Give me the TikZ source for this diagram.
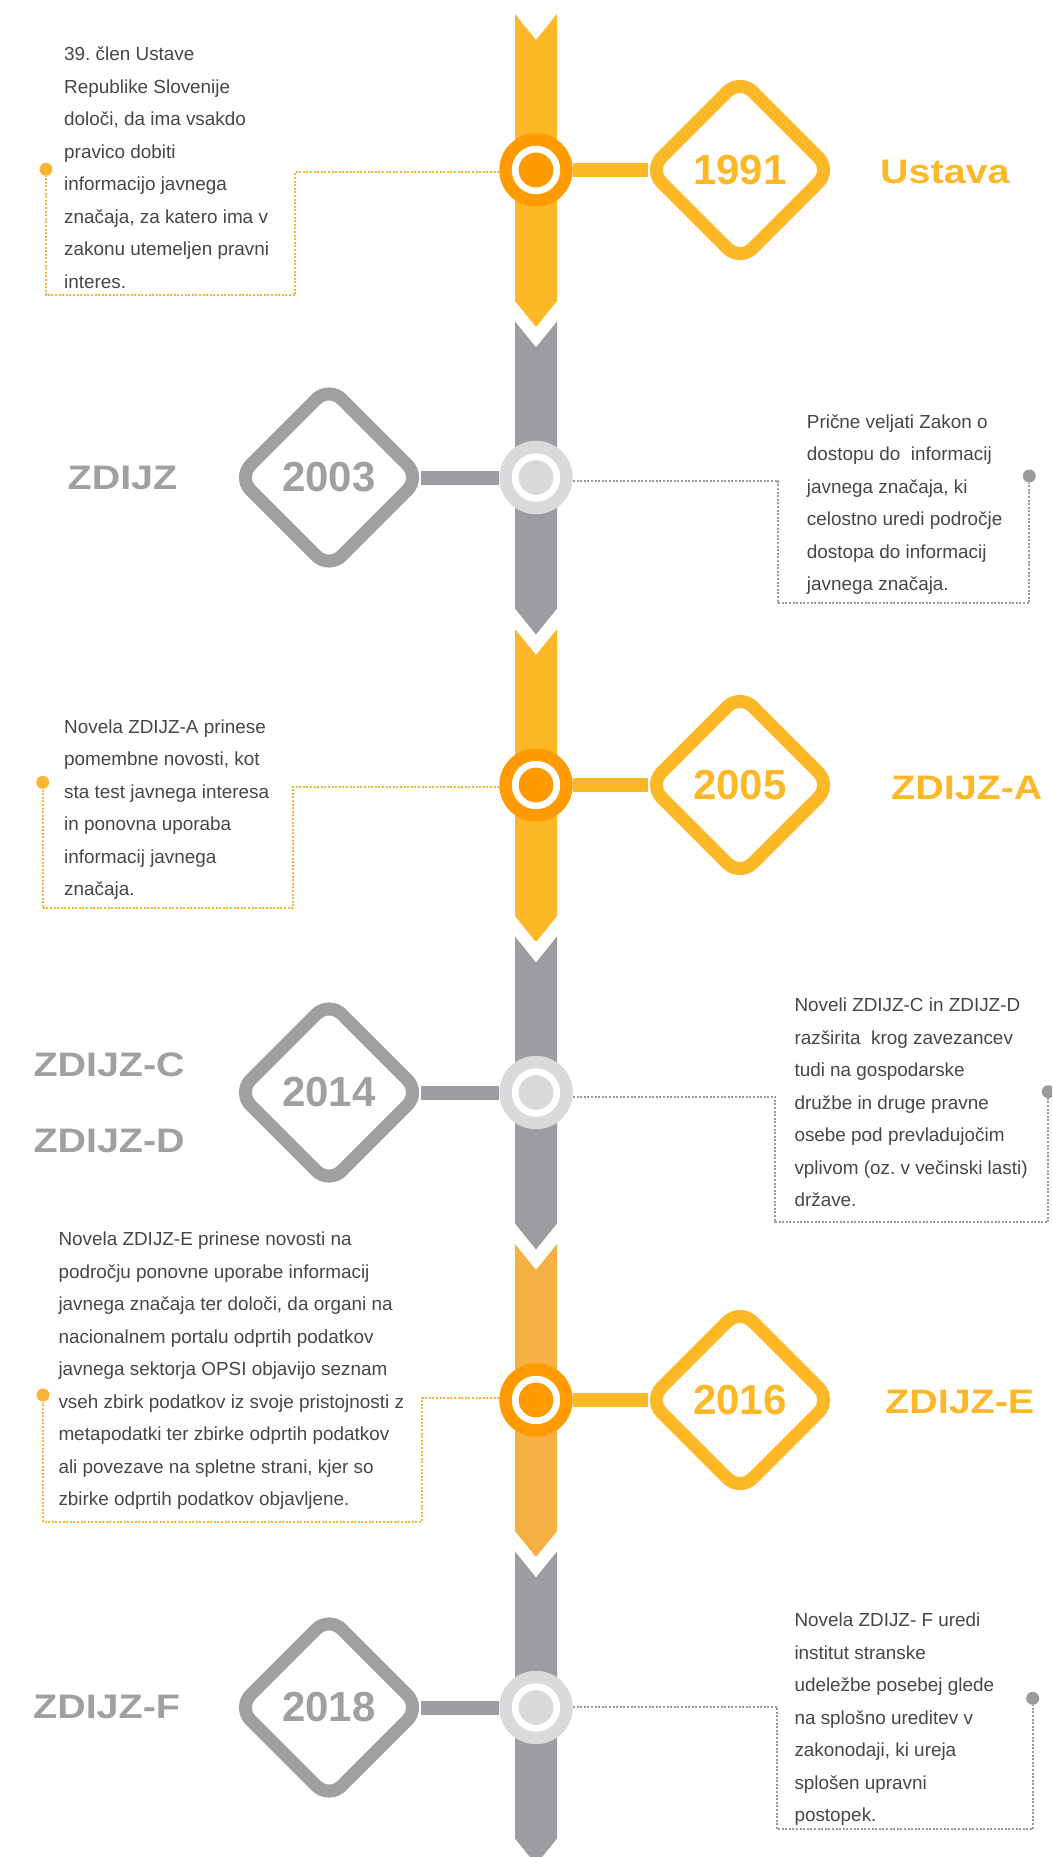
\documentclass[tikz,border=0pt]{standalone}
\usepackage{fontspec}
\setmainfont{Liberation Sans}
\newfontfamily\lblfont[FakeStretch=1.16]{Liberation Sans}
\usetikzlibrary{shapes.geometric}
\definecolor{yel}{HTML}{FDB827}
\definecolor{orng}{HTML}{FF9A00}
\definecolor{lorng}{HTML}{F6B144}
\definecolor{gbar}{HTML}{9D9DA1}
\definecolor{gdia}{HTML}{A0A0A3}
\definecolor{gcirc}{HTML}{D9DADC}
\definecolor{txt}{HTML}{474747}
\definecolor{gdot}{HTML}{9B9B9E}
\definecolor{ydot}{HTML}{FBB536}
\begin{document}
\frenchspacing
\begin{tikzpicture}[x=1pt,y=-1pt,
  hub/.style={circle, inner sep=0pt, minimum size=73.4pt, fill=#1},
  yeardia/.style={diamond, draw=#1, text=#1, line width=13pt, rounded corners=18pt,
    minimum width=187.4pt, minimum height=187.4pt, inner sep=0pt,
    font=\fontsize{42}{42}\selectfont\bfseries},
  bar/.style={draw=#1, line width=14pt},
  dotline/.style={draw=#1, line width=2pt, dash pattern=on 2pt off 1.6pt},
  pin/.style={circle, fill=#1, inner sep=0pt, minimum size=13pt},
  body/.style={anchor=base west, inner sep=0pt, text=txt, font=\frenchspacing\fontsize{18.9}{32.5}\selectfont},
  lbl/.style={anchor=base west, inner sep=0pt, text=#1, font=\lblfont\fontsize{34}{34}\selectfont\bfseries},
]
\fill[white] (0,0) rectangle (1052,1857);
\path[use as bounding box] (0,0) rectangle (1052,1857);
\clip (0,0) rectangle (1052,1857);

% timeline segments
\foreach \k/\col in {0/yel,1/gbar,2/yel,3/gbar,4/lorng,5/gbar}{
  \pgfmathsetmacro\T{14+307.5*\k}
  \fill[\col] (515,\T) -- (536,\T+26) -- (557,\T) -- (557,\T+287) -- (536,\T+313) -- (515,\T+287) -- cycle;
}

% hubs
\node[hub=orng]  (c0) at (536,170) {};
\node[hub=gcirc] (c1) at (536,477.5) {};
\node[hub=orng]  (c2) at (536,785) {};
\node[hub=gcirc] (c3) at (536,1092.5) {};
\node[hub=orng]  (c4) at (536,1400) {};
\node[hub=gcirc] (c5) at (536,1707.5) {};
\foreach \i in {0,...,5}{
  \draw[white, line width=6.7pt] (c\i.center) circle[radius=20.85pt];
}

% year diamonds
\node[yeardia=yel]  (d0) at (740,170) {\raisebox{-2pt}{1991}};
\node[yeardia=gdia] (d1) at (329,477.5) {\raisebox{-2pt}{2003}};
\node[yeardia=yel]  (d2) at (740,785) {\raisebox{-2pt}{2005}};
\node[yeardia=gdia] (d3) at (329,1092.5) {\raisebox{-2pt}{2014}};
\node[yeardia=yel]  (d4) at (740,1400) {\raisebox{-2pt}{2016}};
\node[yeardia=gdia] (d5) at (329,1707.5) {\raisebox{-2pt}{2018}};

% connectors hub - diamond
\draw[bar=yel]  (c0.east) -- ([xshift=8pt]d0.west);
\draw[bar=gbar] ([xshift=-8pt]d1.east) -- (c1.west);
\draw[bar=yel]  (c2.east) -- ([xshift=8pt]d2.west);
\draw[bar=gbar] ([xshift=-8pt]d3.east) -- (c3.west);
\draw[bar=yel]  (c4.east) -- ([xshift=8pt]d4.west);
\draw[bar=gbar] ([xshift=-8pt]d5.east) -- (c5.west);

% labels
\node[lbl=yel]  (l0)  at (880,183) {Ustava};
\node[lbl=gdia] (l1)  at (67.5,489.5) {ZDIJZ};
\node[lbl=yel]  (l2)  at (891,799) {ZDIJZ-A};
\node[lbl=gdia] (l3a) at (33.3,1076) {ZDIJZ-C};
\node[lbl=gdia] (l3b) at (33.3,1152.7) {ZDIJZ-D};
\node[lbl=yel]  (l4)  at (885,1413.5) {ZDIJZ-E};
\node[lbl=gdia] (l5)  at (33,1718) {ZDIJZ-F};

% texts
\node[body] (t0) at (64,60.7) {\begin{tabular}[t]{@{}l@{}}39. člen Ustave\\Republike Slovenije\\določi, da ima vsakdo\\pravico dobiti\\informacijo javnega\\značaja, za katero ima v\\zakonu utemeljen pravni\\interes.\end{tabular}};
\node[body] (t1) at (806.7,428.3) {\begin{tabular}[t]{@{}l@{}}Prične veljati Zakon o\\dostopu do~ informacij\\javnega značaja, ki\\celostno uredi področje\\dostopa do informacij\\javnega značaja.\end{tabular}};
\node[body] (t2) at (64,733.3) {\begin{tabular}[t]{@{}l@{}}Novela ZDIJZ-A prinese\\pomembne novosti, kot\\sta test javnega interesa\\in ponovna uporaba\\informacij javnega\\značaja.\end{tabular}};
\node[body] (t3) at (794.3,1011.7) {\begin{tabular}[t]{@{}l@{}}Noveli ZDIJZ-C in ZDIJZ-D\\razširita~ krog zavezancev\\tudi na gospodarske\\družbe in druge pravne\\osebe pod prevladujočim\\vplivom (oz. v večinski lasti)\\države.\end{tabular}};
\node[body] (t4) at (58.3,1245.7) {\begin{tabular}[t]{@{}l@{}}Novela ZDIJZ-E prinese novosti na\\področju ponovne uporabe informacij\\javnega značaja ter določi, da organi na\\nacionalnem portalu odprtih podatkov\\javnega sektorja OPSI objavijo seznam\\vseh zbirk podatkov iz svoje pristojnosti z\\metapodatki ter zbirke odprtih podatkov\\ali povezave na spletne strani, kjer so\\zbirke odprtih podatkov objavljene.\end{tabular}};
\node[body] (t5) at (794.3,1626.7) {\begin{tabular}[t]{@{}l@{}}Novela ZDIJZ- F uredi\\institut stranske\\udeležbe posebej glede\\na splošno ureditev v\\zakonodaji, ki ureja\\splošen upravni\\postopek.\end{tabular}};

% pins
\node[pin=ydot] (p0) at (46,169.3) {};
\node[pin=gdot] (p1) at (1029.3,476) {};
\node[pin=ydot] (p2) at (42.7,782.3) {};
\node[pin=gdot] (p3) at (1048.3,1091.7) {};
\node[pin=ydot] (p4) at (43,1395) {};
\node[pin=gdot] (p5) at (1032.7,1698.3) {};

% dotted frames
\coordinate (q0a) at (295,172.3);   \coordinate (q0b) at (295,295.3);    \coordinate (q0c) at (46,295.3);
\coordinate (q1a) at (778.3,481);   \coordinate (q1b) at (778.3,603.3);  \coordinate (q1c) at (1029.3,603.3);
\coordinate (q2a) at (292.7,786.7); \coordinate (q2b) at (292.7,908.3);  \coordinate (q2c) at (42.7,908.3);
\coordinate (q3a) at (775,1096.7);  \coordinate (q3b) at (775,1222.3);   \coordinate (q3c) at (1048.3,1222.3);
\coordinate (q4a) at (421.7,1398.3);\coordinate (q4b) at (421.7,1521.7); \coordinate (q4c) at (43,1521.7);
\coordinate (q5a) at (776.7,1706.7);\coordinate (q5b) at (776.7,1829.3); \coordinate (q5c) at (1032.7,1829.3);

\draw[dotline=ydot] (c0.west |- q0a) -- (q0a) -- (q0b) -- (q0c) -- (p0.south);
\draw[dotline=gdot] (c1.east |- q1a) -- (q1a) -- (q1b) -- (q1c) -- (p1.south);
\draw[dotline=ydot] (c2.west |- q2a) -- (q2a) -- (q2b) -- (q2c) -- (p2.south);
\draw[dotline=gdot] (c3.east |- q3a) -- (q3a) -- (q3b) -- (q3c) -- (p3.south);
\draw[dotline=ydot] (c4.west |- q4a) -- (q4a) -- (q4b) -- (q4c) -- (p4.south);
\draw[dotline=gdot] (c5.east |- q5a) -- (q5a) -- (q5b) -- (q5c) -- (p5.south);
\end{tikzpicture}
\end{document}
